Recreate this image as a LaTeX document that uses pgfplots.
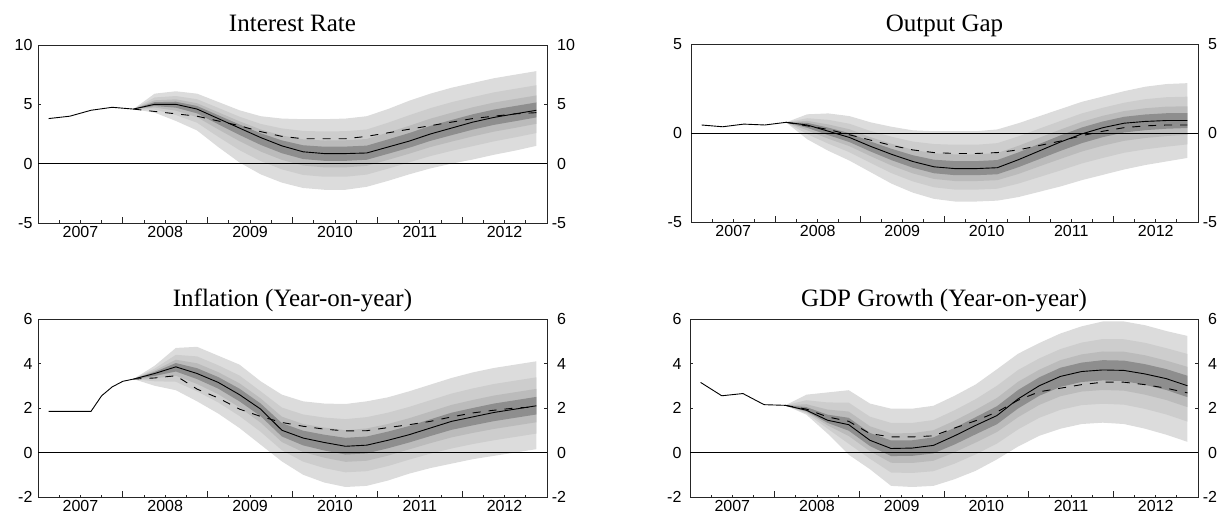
\documentclass[border=0pt]{standalone}
\usepackage{fontspec}
\setmainfont{Liberation Serif}
\newfontfamily\ticksf{Liberation Sans}
\usepackage{pgfplots}
\usepackage{pgfplotstable}
\usepgfplotslibrary{fillbetween}
\pgfplotsset{compat=1.18}

\definecolor{g1}{HTML}{DCDCDC}
\definecolor{g2}{HTML}{CDCDCD}
\definecolor{g3}{HTML}{BBBBBB}
\definecolor{g4}{HTML}{8E8E8E}

% ---------------- Interest rate ----------------
\pgfplotstableread{
x c
2007.125 3.8
2007.375 4.0
2007.625 4.5
2007.875 4.75
2008.125 4.6
}\histA
\pgfplotstableread{
x c d l1 l2 l3 l4 u4 u3 u2 u1
2008.125 4.6 4.6 4.6 4.6 4.6 4.6 4.6 4.6 4.6 4.6
2008.375 5.0 4.4 4.3 4.55 4.73 4.86 5.18 5.34 5.58 5.9
2008.625 5.0 4.2 3.6 4.10 4.47 4.72 5.22 5.42 5.70 6.1
2008.875 4.6 4.0 2.8 3.45 3.92 4.24 4.86 5.09 5.43 5.9
2009.125 3.8 3.6 1.4 2.26 2.89 3.32 4.08 4.33 4.70 5.2
2009.375 3.0 3.2 0.1 1.14 1.90 2.42 3.30 3.57 3.96 4.5
2009.625 2.2 2.7 -0.9 0.22 1.02 1.58 2.56 2.88 3.35 4.0
2009.875 1.5 2.3 -1.6 -0.48 0.32 0.88 1.96 2.37 2.97 3.8
2010.125 1.0 2.1 -2.05 -0.95 -0.16 0.39 1.55 2.05 2.76 3.75
2010.375 0.85 2.1 -2.2 -1.10 -0.31 0.24 1.43 1.95 2.71 3.75
2010.625 0.85 2.1 -2.2 -1.10 -0.31 0.24 1.44 1.97 2.74 3.8
2010.875 0.9 2.3 -1.95 -0.92 -0.18 0.33 1.52 2.08 2.88 4.0
2011.125 1.4 2.6 -1.45 -0.42 0.32 0.83 2.04 2.62 3.45 4.6
2011.375 1.9 2.9 -0.9 0.11 0.84 1.34 2.58 3.19 4.08 5.3
2011.625 2.5 3.2 -0.4 0.64 1.40 1.92 3.18 3.79 4.68 5.9
2011.875 3.0 3.5 0.0 1.08 1.86 2.40 3.68 4.29 5.18 6.4
2012.125 3.5 3.8 0.35 1.48 2.30 2.87 4.16 4.75 5.61 6.8
2012.375 3.9 4.0 0.75 1.88 2.70 3.27 4.56 5.15 6.01 7.2
2012.625 4.2 4.2 1.1 2.22 3.02 3.58 4.86 5.45 6.31 7.5
2012.875 4.5 4.3 1.5 2.58 3.36 3.90 5.16 5.75 6.61 7.8
}\fanA

% ---------------- Output gap ----------------
\pgfplotstableread{
x c
2007.125 0.45
2007.375 0.35
2007.625 0.5
2007.875 0.45
2008.125 0.6
}\histB
\pgfplotstableread{
x c d l1 l2 l3 l4 u4 u3 u2 u1
2008.125 0.6 0.6 0.6 0.6 0.6 0.6 0.6 0.6 0.6 0.6
2008.375 0.45 0.4 -0.35 -0.06 0.15 0.29 0.57 0.68 0.83 1.05
2008.625 0.1 0.2 -1.0 -0.60 -0.32 -0.12 0.30 0.48 0.74 1.1
2008.875 -0.25 -0.1 -1.55 -1.08 -0.74 -0.51 -0.01 0.21 0.52 0.95
2009.125 -0.75 -0.4 -2.2 -1.68 -1.30 -1.04 -0.48 -0.24 0.11 0.6
2009.375 -1.2 -0.7 -2.85 -2.26 -1.83 -1.53 -0.89 -0.61 -0.21 0.35
2009.625 -1.6 -0.95 -3.35 -2.72 -2.27 -1.95 -1.25 -0.94 -0.48 0.15
2009.875 -1.9 -1.1 -3.7 -3.05 -2.58 -2.26 -1.50 -1.14 -0.62 0.1
2010.125 -2.0 -1.15 -3.85 -3.18 -2.70 -2.37 -1.58 -1.20 -0.66 0.1
2010.375 -2.0 -1.15 -3.85 -3.18 -2.70 -2.37 -1.58 -1.20 -0.66 0.1
2010.625 -1.95 -1.1 -3.8 -3.13 -2.65 -2.32 -1.52 -1.13 -0.57 0.2
2010.875 -1.5 -0.95 -3.6 -2.84 -2.30 -1.92 -1.09 -0.72 -0.19 0.55
2011.125 -1.0 -0.7 -3.3 -2.47 -1.87 -1.46 -0.61 -0.26 0.25 0.95
2011.375 -0.5 -0.45 -3.0 -2.10 -1.45 -1.00 -0.13 0.20 0.68 1.35
2011.625 -0.05 -0.15 -2.65 -1.71 -1.04 -0.57 0.31 0.63 1.10 1.75
2011.875 0.3 0.1 -2.35 -1.40 -0.71 -0.23 0.65 0.97 1.42 2.05
2012.125 0.55 0.3 -2.05 -1.11 -0.44 0.03 0.91 1.23 1.70 2.35
2012.375 0.65 0.4 -1.8 -0.92 -0.28 0.16 1.04 1.39 1.90 2.6
2012.625 0.7 0.45 -1.6 -0.77 -0.17 0.24 1.11 1.48 2.01 2.75
2012.875 0.7 0.45 -1.4 -0.64 -0.10 0.28 1.12 1.50 2.04 2.8
}\fanB

% ---------------- Inflation ----------------
\pgfplotstableread{
x c
2007.125 1.85
2007.375 1.85
2007.625 1.85
2007.75 2.55
2007.875 2.95
2008.0 3.2
2008.125 3.3
}\histC
\pgfplotstableread{
x c d l1 l2 l3 l4 u4 u3 u2 u1
2008.125 3.3 3.3 3.3 3.3 3.3 3.3 3.3 3.3 3.3 3.3
2008.375 3.55 3.35 3.0 3.20 3.34 3.44 3.62 3.68 3.77 3.9
2008.625 3.85 3.45 2.8 3.18 3.45 3.64 4.02 4.17 4.39 4.7
2008.875 3.55 2.85 2.3 2.75 3.08 3.30 3.79 4.01 4.32 4.75
2009.125 3.15 2.45 1.75 2.25 2.62 2.87 3.39 3.61 3.92 4.35
2009.375 2.6 1.95 1.1 1.64 2.03 2.30 2.87 3.11 3.46 3.95
2009.625 1.95 1.62 0.35 0.93 1.34 1.63 2.20 2.43 2.75 3.2
2009.875 1.0 1.35 -0.4 0.10 0.47 0.72 1.32 1.61 2.02 2.6
2010.125 0.65 1.18 -1.0 -0.41 0.02 0.32 0.98 1.28 1.71 2.3
2010.375 0.45 1.05 -1.35 -0.70 -0.23 0.09 0.80 1.12 1.57 2.2
2010.625 0.28 0.97 -1.55 -0.89 -0.42 -0.09 0.66 1.00 1.50 2.18
2010.875 0.33 0.98 -1.5 -0.84 -0.37 -0.04 0.72 1.08 1.59 2.3
2011.125 0.55 1.12 -1.26 -0.61 -0.14 0.19 0.94 1.28 1.79 2.48
2011.375 0.8 1.25 -0.95 -0.32 0.14 0.45 1.19 1.54 2.05 2.75
2011.625 1.1 1.4 -0.7 -0.05 0.42 0.74 1.49 1.84 2.35 3.05
2011.875 1.4 1.6 -0.5 0.18 0.68 1.02 1.79 2.14 2.65 3.35
2012.125 1.6 1.78 -0.3 0.38 0.88 1.22 2.00 2.36 2.88 3.6
2012.375 1.8 1.9 -0.15 0.55 1.06 1.41 2.20 2.56 3.08 3.8
2012.625 1.95 2.0 0.0 0.70 1.21 1.56 2.35 2.71 3.23 3.95
2012.875 2.1 2.05 0.15 0.85 1.36 1.71 2.50 2.86 3.38 4.1
}\fanC

% ---------------- GDP growth ----------------
\pgfplotstableread{
x c
2007.125 3.15
2007.375 2.55
2007.625 2.65
2007.875 2.15
2008.125 2.12
}\histD
\pgfplotstableread{
x c d l1 l2 l3 l4 u4 u3 u2 u1
2008.125 2.12 2.12 2.12 2.12 2.12 2.12 2.12 2.12 2.12 2.12
2008.375 1.9 1.95 1.7 1.77 1.82 1.86 2.04 2.17 2.35 2.6
2008.625 1.45 1.6 0.85 1.07 1.22 1.33 1.70 1.93 2.25 2.7
2008.875 1.25 1.4 -0.1 0.39 0.74 0.98 1.56 1.84 2.24 2.8
2009.125 0.55 0.85 -0.75 -0.28 0.06 0.29 0.88 1.18 1.61 2.2
2009.375 0.18 0.7 -1.5 -0.90 -0.46 -0.16 0.54 0.86 1.33 1.97
2009.625 0.2 0.7 -1.55 -0.92 -0.47 -0.15 0.55 0.87 1.33 1.97
2009.875 0.32 0.75 -1.5 -0.84 -0.37 -0.04 0.68 1.00 1.46 2.1
2010.125 0.75 1.1 -1.2 -0.50 0.01 0.36 1.11 1.43 1.90 2.55
2010.375 1.22 1.43 -0.82 -0.08 0.45 0.82 1.59 1.92 2.40 3.06
2010.625 1.66 1.82 -0.31 0.40 0.92 1.27 2.08 2.45 3.00 3.74
2010.875 2.41 2.35 0.27 1.04 1.59 1.98 2.81 3.18 3.71 4.44
2011.125 3.00 2.73 0.75 1.56 2.14 2.55 3.38 3.72 4.23 4.92
2011.375 3.42 2.89 1.07 1.92 2.53 2.95 3.81 4.15 4.65 5.35
2011.625 3.64 3.05 1.28 2.13 2.74 3.17 4.04 4.41 4.94 5.67
2011.875 3.71 3.16 1.34 2.19 2.81 3.24 4.15 4.54 5.10 5.89
2012.125 3.69 3.16 1.28 2.15 2.78 3.21 4.13 4.53 5.09 5.89
2012.375 3.53 3.05 1.07 1.96 2.60 3.04 3.97 4.37 4.93 5.72
2012.625 3.32 2.89 0.80 1.71 2.36 2.81 3.75 4.13 4.69 5.46
2012.875 3.00 2.68 0.48 1.39 2.04 2.49 3.45 3.85 4.43 5.24
}\fanD

\pgfplotsset{
  panel/.style={
    scale only axis, xmin=2007, xmax=2013,
    axis line style={line width=0.9pt, black!85},
    tick align=inside,
    xtick={2008,2009,2010,2011,2012}, xticklabels={},
    extra x ticks={2007.5,2008.5,2009.5,2010.5,2011.5,2012.5},
    extra x tick labels={2007,2008,2009,2010,2011,2012},
    extra x tick style={major tick length=0pt},
    minor xtick={2007.25,2007.5,2007.75,2008.25,2008.5,2008.75,2009.25,2009.5,2009.75,2010.25,2010.5,2010.75,2011.25,2011.5,2011.75,2012.25,2012.5,2012.75},
    major tick length=6pt, minor tick length=2.5pt,
    xtick pos=left, ytick pos=both,
    ytick style={/pgfplots/major tick length=3pt},
    tick style={black!85, line width=0.8pt},
    tick label style={font=\ticksf\fontsize{16}{18}\selectfont},
    every axis title/.style={at={(0.5,1)}, anchor=base, yshift=13pt, font=\fontsize{25}{28}\selectfont},
  },
  rlab/.style={
    scale only axis, xmin=2007, xmax=2013,
    hide x axis, axis y line*=right,
    y axis line style={draw=none}, ytick style={draw=none},
    tick label style={font=\ticksf\fontsize{16}{18}\selectfont},
    yticklabel style={xshift=6.7pt},
  },
  cline/.style={black, line width=0.9pt},
  dline/.style={black, line width=0.9pt, dash pattern=on 8pt off 8pt},
}

\newcommand\fan[1]{%
  \addplot[draw=none, name path=U1] table[x=x,y=u1]{#1};
  \addplot[draw=none, name path=L1] table[x=x,y=l1]{#1};
  \addplot[draw=none, name path=U2] table[x=x,y=u2]{#1};
  \addplot[draw=none, name path=L2] table[x=x,y=l2]{#1};
  \addplot[draw=none, name path=U3] table[x=x,y=u3]{#1};
  \addplot[draw=none, name path=L3] table[x=x,y=l3]{#1};
  \addplot[draw=none, name path=U4] table[x=x,y=u4]{#1};
  \addplot[draw=none, name path=L4] table[x=x,y=l4]{#1};
  \addplot[fill=g1, draw=none] fill between[of=U1 and L1];
  \addplot[fill=g2, draw=none] fill between[of=U2 and L2];
  \addplot[fill=g3, draw=none] fill between[of=U3 and L3];
  \addplot[fill=g4, draw=none] fill between[of=U4 and L4];
}

\begin{document}
\begin{tikzpicture}

% Panel A
\begin{axis}[panel, at={(38pt,289pt)}, anchor=south west, width=509pt, height=178pt,
  ymin=-5, ymax=10, ytick={-5,0,5,10}, yticklabels={-5,0,5,10},
  yticklabel style={xshift=-2pt}, title={Interest Rate}]
  \fan{\fanA}
  \addplot[black, line width=0.9pt] coordinates {(2007,0) (2013,0)};
  \addplot[dline] table[x=x,y=d]{\fanA};
  \addplot[cline] table[x=x,y=c]{\histA};
  \addplot[cline] table[x=x,y=c]{\fanA};
\end{axis}
\begin{axis}[rlab, at={(38pt,289pt)}, anchor=south west, width=509pt, height=178pt,
  ymin=-5, ymax=10, ytick={-5,0,5,10}, yticklabels={\llap{-}5,0,5,10}]
  \addplot[draw=none] coordinates {(2008,0) (2009,1)};
\end{axis}

% Panel B
\begin{axis}[panel, at={(691pt,290pt)}, anchor=south west, width=507pt, height=178pt,
  ymin=-5, ymax=5, ytick={-5,0,5}, yticklabels={-5,0,5},
  yticklabel style={xshift=-5.5pt}, title={Output Gap}]
  \fan{\fanB}
  \addplot[black, line width=0.9pt] coordinates {(2007,0) (2013,0)};
  \addplot[dline] table[x=x,y=d]{\fanB};
  \addplot[cline] table[x=x,y=c]{\histB};
  \addplot[cline] table[x=x,y=c]{\fanB};
\end{axis}
\begin{axis}[rlab, at={(691pt,290pt)}, anchor=south west, width=507pt, height=178pt,
  ymin=-5, ymax=5, ytick={-5,0,5}, yticklabels={\llap{-}5,0,5}]
  \addplot[draw=none] coordinates {(2008,0) (2009,1)};
\end{axis}

% Panel C
\begin{axis}[panel, at={(38pt,15pt)}, anchor=south west, width=509pt, height=178pt,
  ymin=-2, ymax=6, ytick={-2,0,2,4,6}, yticklabels={-2,0,2,4,6},
  yticklabel style={xshift=-2pt}, title={Inflation (Year-on-year)}]
  \fan{\fanC}
  \addplot[black, line width=0.9pt] coordinates {(2007,0) (2013,0)};
  \addplot[dline] table[x=x,y=d]{\fanC};
  \addplot[cline] table[x=x,y=c]{\histC};
  \addplot[cline] table[x=x,y=c]{\fanC};
\end{axis}
\begin{axis}[rlab, at={(38pt,15pt)}, anchor=south west, width=509pt, height=178pt,
  ymin=-2, ymax=6, ytick={-2,0,2,4,6}, yticklabels={\llap{-}2,0,2,4,6}]
  \addplot[draw=none] coordinates {(2008,0) (2009,1)};
\end{axis}

% Panel D
\begin{axis}[panel, at={(690pt,15pt)}, anchor=south west, width=508pt, height=178pt,
  ymin=-2, ymax=6, ytick={-2,0,2,4,6}, yticklabels={-2,0,2,4,6},
  yticklabel style={xshift=-5pt}, title={GDP Growth (Year-on-year)}]
  \fan{\fanD}
  \addplot[black, line width=0.9pt] coordinates {(2007,0) (2013,0)};
  \addplot[dline] table[x=x,y=d]{\fanD};
  \addplot[cline] table[x=x,y=c]{\histD};
  \addplot[cline] table[x=x,y=c]{\fanD};
\end{axis}
\begin{axis}[rlab, at={(690pt,15pt)}, anchor=south west, width=508pt, height=178pt,
  ymin=-2, ymax=6, ytick={-2,0,2,4,6}, yticklabels={\llap{-}2,0,2,4,6}]
  \addplot[draw=none] coordinates {(2008,0) (2009,1)};
\end{axis}

\pgfresetboundingbox
\path (0pt,0pt) rectangle (1220pt,512pt);
\end{tikzpicture}
\end{document}
